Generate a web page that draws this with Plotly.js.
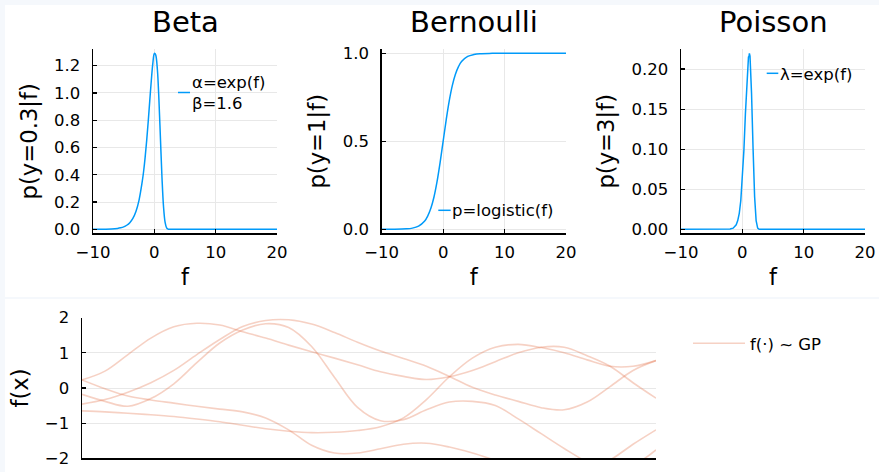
<!DOCTYPE html>
<html><head><meta charset="utf-8">
<script src="https://cdn.plot.ly/plotly-3.0.1.min.js"></script>
<style>html,body{margin:0;padding:0;background:#fff}#chart{width:879px;height:472px}</style>
</head><body><div id="chart"></div>
<script>
// ---- Data ----
const betaF = [-10,-9,-8,-7,-6,-5.5,-5,-4.5,-4,-3.5,-3,-2.5,-2,-1.75,-1.5,-1.25,-1,-0.75,-0.5,-0.25,0,0.1,0.25,0.5,0.75,1,1.25,1.5,1.75,2,2.25,2.5,3,4,6,10,15,20];
const betaP = [0.0001,0.0003,0.0009,0.0025,0.0067,0.011,0.018,0.030,0.049,0.080,0.131,0.213,0.342,0.424,0.528,0.650,0.789,0.940,1.088,1.215,1.290,1.288,1.275,1.170,0.949,0.661,0.377,0.166,0.053,0.011,0.0013,0.0001,0,0,0,0,0,0];

const bernF = [-10,-8,-6,-5,-4,-3,-2.5,-2,-1.5,-1,-0.5,0,0.5,1,1.5,2,2.5,3,4,5,6,8,10,15,20];
const bernP = [0.00005,0.0003,0.0025,0.0067,0.018,0.047,0.076,0.119,0.182,0.269,0.378,0.5,0.622,0.731,0.818,0.881,0.924,0.953,0.982,0.993,0.998,0.9997,1.0,1.0,1.0];

const poisF = [-10,-5,-3,-2,-1.5,-1,-0.75,-0.5,-0.25,0,0.25,0.5,0.75,1,1.1,1.15,1.25,1.5,1.75,2,2.25,2.5,2.75,3,5,10,20];
const poisP = [0,0,0.00002,0.0004,0.0015,0.0057,0.011,0.020,0.036,0.061,0.098,0.144,0.190,0.215,0.216,0.2196,0.216,0.170,0.101,0.041,0.011,0.0015,0.0001,0,0,0,0];

const gpX = [0,0.04,0.08,0.12,0.16,0.2,0.24,0.28,0.32,0.36,0.4,0.44,0.48,0.52,0.56,0.6,0.64,0.68,0.72,0.76,0.8,0.84,0.88,0.92,0.96,1];
const gpSample1 = [0.23,0.48,0.95,1.42,1.74,1.84,1.79,1.60,1.42,1.22,1.03,0.85,0.66,0.46,0.33,0.24,0.32,0.50,0.75,1.00,1.16,1.16,0.92,0.62,0.15,-0.29];
const gpSample2 = [-0.18,-0.38,-0.52,-0.30,0.12,0.72,1.28,1.65,1.83,1.72,1.18,0.30,-0.55,-0.93,-0.90,-0.62,-0.40,-0.38,-0.50,-0.88,-1.30,-1.72,-2.10,-2.35,-2.20,-1.76];
const gpSample3 = [-0.46,-0.33,-0.12,0.15,0.50,0.95,1.38,1.75,1.92,1.94,1.82,1.58,1.30,1.05,0.84,0.62,0.33,0.02,-0.20,-0.38,-0.56,-0.62,-0.40,0.04,0.50,0.78];
const gpSample4 = [-0.65,-0.68,-0.72,-0.76,-0.81,-0.88,-0.96,-1.06,-1.16,-1.23,-1.27,-1.26,-1.21,-1.10,-0.85,-0.33,0.32,0.85,1.16,1.24,1.15,1.00,0.80,0.62,0.62,0.78];
const gpSample5 = [0.23,-0.02,-0.23,-0.34,-0.43,-0.52,-0.60,-0.68,-0.85,-1.19,-1.63,-1.85,-1.85,-1.73,-1.60,-1.57,-1.68,-1.85,-2.05,-2.25,-2.40,-2.45,-2.35,-2.05,-1.60,-1.19];

const xTicks = [-10,0,10,20];
const gpTicks = [-2,-1,0,1,2];

// ---- Styling ----
const W = 879, H = 472;
const px = v => v / W, py = v => 1 - v / H;
const blue = '#009af9';
const gpColor = 'rgba(226,111,70,0.32)';
const FONT = 'DejaVu Sans, sans-serif';
const tickFont = {family: FONT, size: 16.5, color: '#000'};
const guideFont = {family: FONT, size: 22.7, color: '#000'};

function xAx(dom, anchor) {
  return {domain: dom, anchor: anchor, range: [-10, 20], tickvals: xTicks, ticks: 'inside', ticklen: 4,
    tickwidth: 1.2, tickcolor: '#000', showline: true, linecolor: '#000', linewidth: 1.5,
    showgrid: true, gridcolor: '#e8e8e8', gridwidth: 1, zeroline: false, tickfont: tickFont,
    ticklabelstandoff: 3, title: {text: 'f', font: guideFont, standoff: 8}};
}
function yAx(dom, anchor, range, dtick, fmt, title) {
  return {domain: dom, anchor: anchor, range: range, dtick: dtick, tick0: 0, tickformat: fmt,
    ticks: 'inside', ticklen: 4, tickwidth: 1.2, tickcolor: '#000', showline: true, linecolor: '#000',
    linewidth: 1.5, showgrid: true, gridcolor: '#e8e8e8', gridwidth: 1, zeroline: false,
    tickfont: tickFont, ticklabelstandoff: 8, title: {text: title, font: guideFont, standoff: 10}};
}

const topY = [py(233.3), py(49.3)];
const traces = [
  {x: betaF, y: betaP, xaxis: 'x', yaxis: 'y', type: 'scatter', mode: 'lines', line: {color: blue, width: 1.5, shape: 'spline'}, showlegend: false},
  {x: bernF, y: bernP, xaxis: 'x2', yaxis: 'y2', type: 'scatter', mode: 'lines', line: {color: blue, width: 1.5, shape: 'spline'}, showlegend: false},
  {x: poisF, y: poisP, xaxis: 'x3', yaxis: 'y3', type: 'scatter', mode: 'lines', line: {color: blue, width: 1.5}, showlegend: false}
];
const gpSamples = [gpSample1, gpSample2, gpSample3, gpSample4, gpSample5];
gpSamples.forEach((s, i) => traces.push({
  x: gpX, y: s, xaxis: 'x4', yaxis: 'y4', type: 'scatter', mode: 'lines',
  line: {color: gpColor, width: 1.6, shape: 'spline'}, name: 'f(·) ~ GP', showlegend: i === 0
}));

const legendFont = {family: FONT, size: 16.5, color: '#000'};
const ann = (text, x, y, size, xanchor) => ({text: text, x: x, y: y, xref: 'paper', yref: 'paper',
  xanchor: xanchor || 'left', yanchor: 'middle', showarrow: false, borderpad: 0,
  font: {family: FONT, size: size, color: '#000'}});
const seg = (x0, x1, y, color) => ({type: 'line', xref: 'paper', yref: 'paper', x0: px(x0), x1: px(x1), y0: py(y), y1: py(y), line: {color: color, width: 1.5}});
const rect = (x0, y0, x1, y1) => ({type: 'rect', xref: 'paper', yref: 'paper', x0: px(x0), x1: px(x1), y0: py(y1), y1: py(y0), fillcolor: '#f5f8fc', line: {width: 0}, layer: 'below'});

const layout = {
  width: W, height: H, margin: {l: 0, r: 0, t: 0, b: 0},
  paper_bgcolor: '#ffffff', plot_bgcolor: 'rgba(0,0,0,0)',
  font: {family: FONT, color: '#000'},
  xaxis: xAx([px(93), px(277)], 'y'),
  yaxis: yAx(topY, 'x', [-0.029, 1.320], 0.2, '.1f', 'p(y=0.3|f)'),
  xaxis2: xAx([px(381.7), px(566)], 'y2'),
  yaxis2: yAx(topY, 'x2', [-0.0227, 1.0227], 0.5, '.1f', 'p(y=1|f)'),
  xaxis3: xAx([px(681), px(865)], 'y3'),
  yaxis3: yAx(topY, 'x3', [-0.0049, 0.2246], 0.05, '.2f', 'p(y=3|f)'),
  xaxis4: {domain: [px(82), px(656)], anchor: 'y4', range: [0, 1], showticklabels: false, ticks: '',
    showgrid: false, zeroline: false, showline: true, linecolor: '#000', linewidth: 1.5},
  yaxis4: {domain: [py(458.3), py(317.7)], anchor: 'x4', range: [-2, 2], tickvals: gpTicks,
    ticks: 'inside', ticklen: 4, tickwidth: 1.2, tickcolor: '#000', showline: true, linecolor: '#000',
    linewidth: 1.5, showgrid: true, gridcolor: '#e8e8e8', gridwidth: 1, zeroline: false,
    tickfont: tickFont, ticklabelstandoff: 8, title: {text: 'f(x)', font: guideFont, standoff: 10}},
  showlegend: true,
  legend: {x: px(688), y: py(326), xanchor: 'left', yanchor: 'top', bgcolor: 'rgba(0,0,0,0)',
    borderwidth: 0, font: legendFont, itemwidth: 52},
  annotations: [
    ann('Beta', px(185), py(21.7), 29, 'center'),
    ann('Bernoulli', px(473.8), py(21.7), 29, 'center'),
    ann('Poisson', px(773), py(21.7), 29, 'center'),
    ann('α=exp(f)', px(191), py(83), 16.5),
    ann('β=1.6', px(191), py(103.5), 16.5),
    ann('p=logistic(f)', px(451), py(210.7), 16.5),
    ann('λ=exp(f)', px(779), py(74.2), 16.5)
  ],
  shapes: [
    rect(0, 0, 879, 5), rect(0, 0, 5, 472), rect(5, 297, 879, 299),
    seg(178, 190, 92.5, blue),
    seg(438.3, 450.7, 210.3, blue),
    seg(766.7, 778.3, 73.3, blue)
  ]
};

Plotly.newPlot('chart', traces, layout, {displayModeBar: false, staticPlot: true});
</script>
</body></html>
